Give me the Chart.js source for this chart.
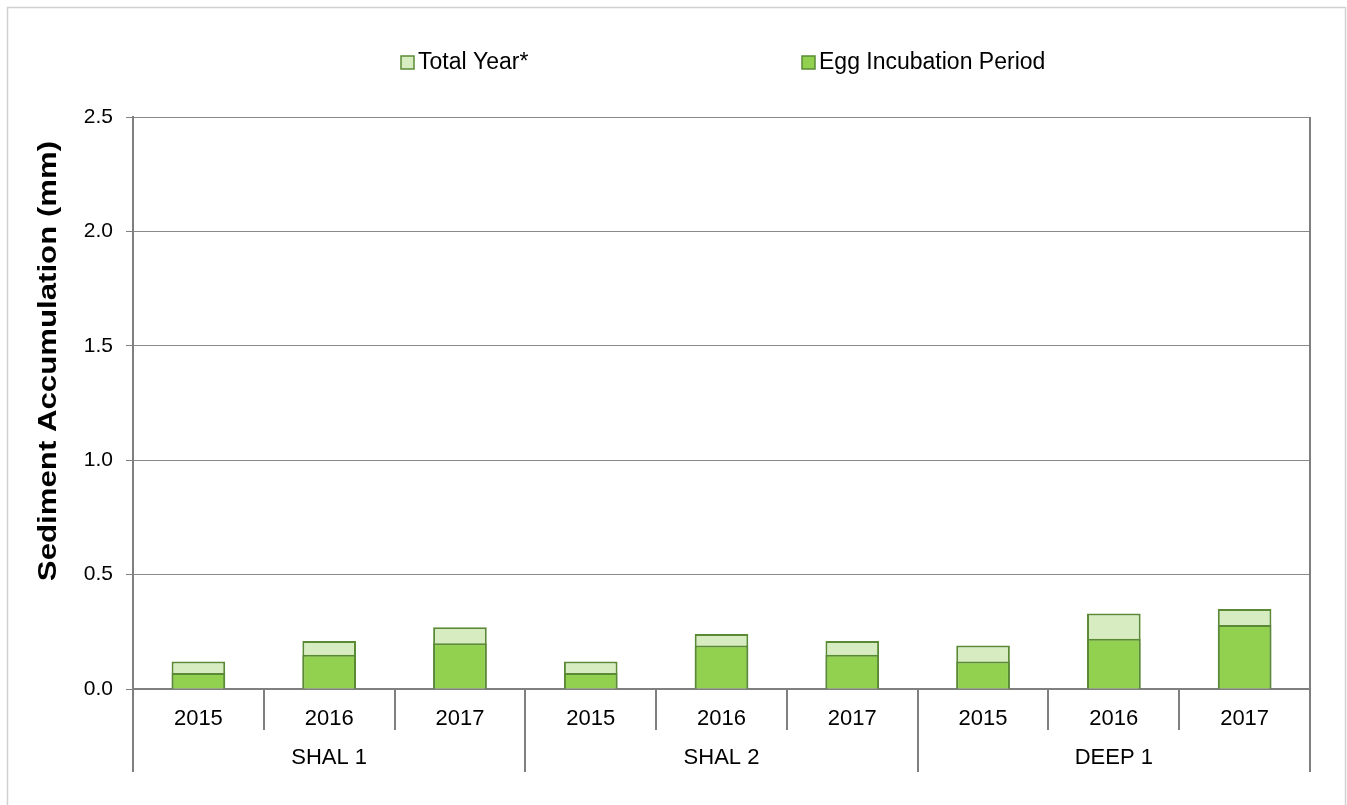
<!DOCTYPE html>
<html>
<head>
<meta charset="utf-8">
<script src="https://cdn.jsdelivr.net/npm/chart.js@4"></script>
<style>
  body { margin: 0; background: #fff; }
  canvas { display: block; }
</style>
</head>
<body>
<canvas id="chart" width="1347" height="805"></canvas>
<script>
const sites = ['SHAL 1', 'SHAL 2', 'DEEP 1'];
const years = ['2015', '2016', '2017'];
const totalYear = [0.12, 0.21, 0.27, 0.12, 0.24, 0.21, 0.19, 0.33, 0.35];
const eggIncubation = [0.07, 0.15, 0.20, 0.07, 0.19, 0.15, 0.12, 0.22, 0.28];
const yTicks = [0, 0.5, 1.0, 1.5, 2.0, 2.5];
const yTitle = 'Sediment Accumulation (mm)';

const axisGrey = '#7f7f7f';
const barBorder = '#5a8a35';
const fontFamily = '"Liberation Sans", Arial, sans-serif';

// one label per bar: the year, repeated for each site
const labels = [];
sites.forEach(() => years.forEach(y => labels.push(y)));

// frame, axis title, group dividers, site names, legend
const decorations = {
    id: 'decorations',
    beforeDraw(chart) {
        const ctx = chart.ctx;
        ctx.save();
        ctx.strokeStyle = '#d0d0d0';
        ctx.lineWidth = 1.5;
        ctx.strokeRect(7.5, 7.5, 1338, 820);
        ctx.restore();
    },
    afterDraw(chart) {
        const ctx = chart.ctx;
        const x = chart.scales.x;
        const area = chart.chartArea;
        const step = (area.right - area.left) / labels.length;
        ctx.save();

        // right edge of plot
        ctx.strokeStyle = axisGrey;
        ctx.lineWidth = 2;
        ctx.beginPath();
        ctx.moveTo(area.right, area.top);
        ctx.lineTo(area.right, area.bottom);
        ctx.stroke();

        // site dividers and names
        for (let g = 0; g <= sites.length; g++) {
            const px = Math.round(area.left + g * years.length * step);
            ctx.beginPath();
            ctx.moveTo(px, area.bottom);
            ctx.lineTo(px, 772);
            ctx.stroke();
        }
        ctx.fillStyle = '#000';
        ctx.font = '22px ' + fontFamily;
        ctx.textAlign = 'center';
        ctx.textBaseline = 'middle';
        sites.forEach((s, g) => {
            const cx = x.getPixelForValue(g * years.length + 1);
            ctx.fillText(s, cx, 758);
        });

        // y axis title (stretched along its length like the original)
        ctx.save();
        ctx.translate(49, 361);
        ctx.rotate(-Math.PI / 2);
        ctx.scale(1.2, 1);
        ctx.font = 'bold 26px ' + fontFamily;
        ctx.fillText(yTitle, 0, 0);
        ctx.restore();

        // legend
        const items = [
            { ds: chart.data.datasets[0], x: 401 },
            { ds: chart.data.datasets[1], x: 802 }
        ];
        ctx.font = '23px ' + fontFamily;
        ctx.textAlign = 'left';
        items.forEach(it => {
            ctx.fillStyle = it.ds.backgroundColor;
            ctx.fillRect(it.x, 56, 13, 13);
            ctx.strokeStyle = barBorder;
            ctx.lineWidth = 1.5;
            ctx.strokeRect(it.x, 56, 13, 13);
            ctx.fillStyle = '#000';
            ctx.fillText(it.ds.label, it.x + 17, 63);
        });
        ctx.restore();
    }
};

new Chart(document.getElementById('chart'), {
    type: 'bar',
    data: {
        labels: labels,
        datasets: [
            {
                label: 'Total Year*',
                data: totalYear,
                backgroundColor: '#d7edc1',
                borderColor: barBorder,
                borderWidth: 2,
                grouped: false,
                order: 2,
                barPercentage: 0.41,
                categoryPercentage: 1
            },
            {
                label: 'Egg Incubation Period',
                data: eggIncubation,
                backgroundColor: '#92d050',
                borderColor: barBorder,
                borderWidth: 2,
                grouped: false,
                order: 1,
                barPercentage: 0.41,
                categoryPercentage: 1
            }
        ]
    },
    options: {
        responsive: false,
        animation: false,
        layout: { padding: { top: 117, right: 37, left: 0, bottom: 0 } },
        plugins: {
            legend: { display: false },
            tooltip: { enabled: false }
        },
        scales: {
            x: {
                afterFit: scale => { scale.height = 116; },
                grid: {
                    offset: true,
                    drawOnChartArea: false,
                    tickLength: 41,
                    color: axisGrey,
                    lineWidth: 2
                },
                border: { color: axisGrey, width: 2 },
                ticks: {
                    color: '#000',
                    padding: -24,
                    font: { family: fontFamily, size: 22 }
                }
            },
            y: {
                min: 0,
                max: 2.5,
                afterFit: scale => { scale.width = 133; },
                afterBuildTicks: scale => { scale.ticks = yTicks.map(v => ({ value: v })); },
                grid: {
                    color: '#888888',
                    lineWidth: 1,
                    tickLength: 7,
                    tickColor: axisGrey
                },
                border: { color: axisGrey, width: 2 },
                ticks: {
                    color: '#000',
                    padding: 13,
                    font: { family: fontFamily, size: 21 },
                    callback: v => Number(v).toFixed(1)
                }
            }
        }
    },
    plugins: [decorations]
});
</script>
</body>
</html>
